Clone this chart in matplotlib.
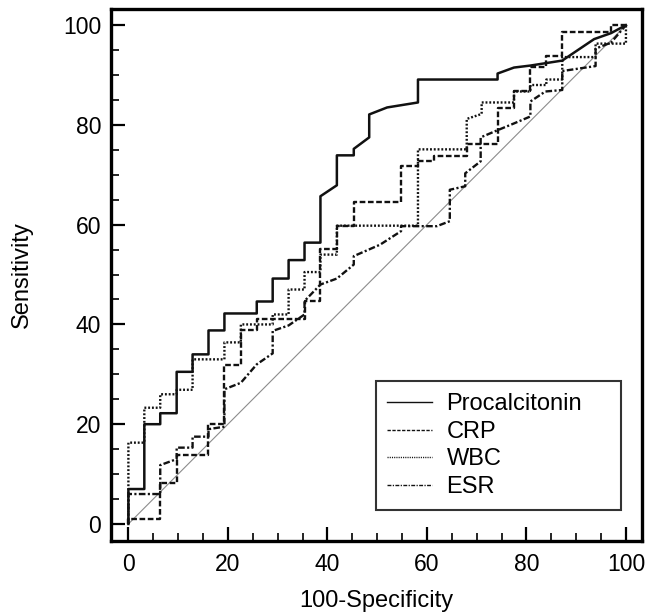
import matplotlib
matplotlib.use("Agg")
import matplotlib.pyplot as plt
from matplotlib.ticker import MultipleLocator

plt.rcParams['font.family'] = ['Liberation Sans', 'DejaVu Sans']

# ROC curves (100-specificity, sensitivity)
pct_x = [0, 0, 3.2, 3.2, 6.4, 6.4, 9.7, 9.7, 12.9, 12.9, 16.1, 16.1, 19.3, 19.3,
         25.8, 25.8, 29.0, 29.0, 32.2, 32.2, 35.4, 35.4, 38.6, 38.6, 41.9, 41.9,
         45.3, 45.3, 48.4, 48.4, 52.0, 58.2, 58.2, 74.2, 74.2, 77.5, 80.8, 87.2,
         93.6, 97.0, 100]
pct_y = [0, 7, 7, 20, 20, 22.2, 22.2, 30.5, 30.5, 34, 34, 38.8, 38.8, 42.2,
         42.2, 44.6, 44.6, 49.2, 49.2, 52.9, 52.9, 56.4, 56.4, 65.7, 67.9, 73.9,
         73.9, 75.2, 77.5, 82.1, 83.5, 84.5, 89.1, 89.1, 90.3, 91.5, 91.9, 92.9,
         97.2, 98.4, 100]

crp_x = [0, 0, 6.4, 6.4, 9.7, 9.7, 16.1, 16.1, 19.3, 19.3, 22.6, 22.6, 25.8, 25.8,
         35.4, 35.4, 38.6, 38.6, 41.9, 41.9, 45.3, 45.3, 54.8, 54.8, 58.2, 58.2,
         61.5, 61.5, 68.0, 68.0, 74.2, 74.2, 77.5, 77.5, 80.8, 80.8, 84.0, 84.0,
         87.2, 87.2, 96.9, 96.9, 100]
crp_y = [0, 1, 1, 8.2, 8.2, 13.9, 13.9, 20, 20, 31.8, 31.8, 38.8, 38.8, 41,
         41, 44.7, 44.7, 55.1, 55.1, 59.8, 59.8, 64.6, 64.6, 71.8, 71.8, 72.8,
         72.8, 73.8, 73.8, 76.2, 76.2, 83.3, 83.3, 86.7, 86.7, 91.7, 91.7, 93.8,
         93.8, 98.7, 98.7, 100, 100]

wbc_x = [0, 0, 3.2, 3.2, 6.4, 6.4, 9.7, 9.7, 12.9, 12.9, 19.3, 19.3, 22.6, 22.6,
         29.0, 29.0, 32.2, 32.2, 35.4, 35.4, 38.6, 38.6, 41.9, 41.9, 58.2, 58.2,
         68.0, 68.0, 71.0, 71.0, 77.5, 77.5, 80.8, 80.8, 84.0, 84.0, 87.2, 87.2,
         93.9, 93.9, 100, 100]
wbc_y = [0, 16.3, 16.3, 23.3, 23.3, 26, 26, 26.9, 26.9, 33, 33, 36.4, 36.4, 40,
         40, 42, 42, 47, 47, 50.5, 50.5, 54, 54, 59.8, 59.8, 75.1, 75.1, 81.2,
         82.2, 84.5, 84.5, 86.7, 86.7, 88, 88, 89.1, 89.1, 93.6, 93.6, 96.3,
         96.3, 100]

esr_x = [0, 0, 6.4, 6.4, 9.7, 9.7, 12.9, 12.9, 16.1, 16.1, 19.3, 19.3, 22.6, 25.8,
         29.0, 29.0, 32.2, 35.4, 35.4, 38.6, 41.9, 45.3, 45.3, 50.6, 54.8, 54.8,
         62.0, 64.6, 64.6, 67.7, 67.7, 70.8, 70.8, 74.1, 77.5, 80.8, 80.8, 83.8,
         87.2, 87.2, 93.9, 93.9, 97.0, 100]
esr_y = [0, 6, 6, 11.8, 13, 15.3, 15.3, 17.5, 17.5, 19, 19.5, 27, 28.3, 32,
         34.2, 38.7, 39.8, 42, 44.7, 48, 49.2, 52, 53.7, 56, 58.7, 59.7,
         59.7, 60.7, 67, 67.7, 70.3, 72.7, 77.5, 78.9, 80.3, 81.7, 84.7, 86.7,
         87, 90.8, 91.8, 95.3, 96.5, 100]

ticks = [0, 20, 40, 60, 80, 100]
ink = '#111111'

fig = plt.figure(figsize=(6.49, 6.13), dpi=100, facecolor='white')
ax = fig.add_axes([0.171, 0.118, 0.818, 0.867])

ax.plot([0, 100], [0, 100], color='#8c8c8c', lw=0.8)
ax.plot(pct_x, pct_y, color=ink, lw=1.8, ls='-', label='Procalcitonin')
ax.plot(crp_x, crp_y, color=ink, lw=1.7, ls=(0, (2.4, 1.1)), label='CRP')
ax.plot(wbc_x, wbc_y, color=ink, lw=1.7, ls=(0, (0.8, 0.8)), label='WBC')
ax.plot(esr_x, esr_y, color=ink, lw=1.7, ls=(0, (2.8, 1, 0.9, 1)), label='ESR')

ax.set_xlim(-3.5, 103.2)
ax.set_ylim(-3.35, 103.2)
ax.set_xticks(ticks)
ax.set_yticks(ticks)
ax.xaxis.set_minor_locator(MultipleLocator(5))
ax.yaxis.set_minor_locator(MultipleLocator(5))
ax.tick_params(which='major', direction='in', length=10, width=1.6,
               labelsize=16.5, top=False, right=False)
ax.tick_params(which='minor', direction='in', length=5.5, width=1.2,
               top=False, right=False)
ax.tick_params(axis='x', which='major', pad=9)
ax.tick_params(axis='y', which='major', pad=7)
for s in ax.spines.values():
    s.set_linewidth(2.4)
    s.set_color('black')

ax.set_xlabel('100-Specificity', fontsize=17, labelpad=10)
ax.set_ylabel('Sensitivity', fontsize=17, labelpad=22)

leg = ax.legend(loc='lower left', bbox_to_anchor=(0.4985, 0.0578, 0.4615, 0.2478),
                mode='expand', fontsize=17, frameon=True, fancybox=False,
                edgecolor='black', handlelength=1.9, handletextpad=0.6,
                labelspacing=0.24, borderaxespad=0, borderpad=0.5)
leg.get_frame().set_linewidth(1.5)
for h in leg.get_lines():
    h.set_linewidth(1.0)

fig.savefig('out.png', dpi=100, facecolor='white')
